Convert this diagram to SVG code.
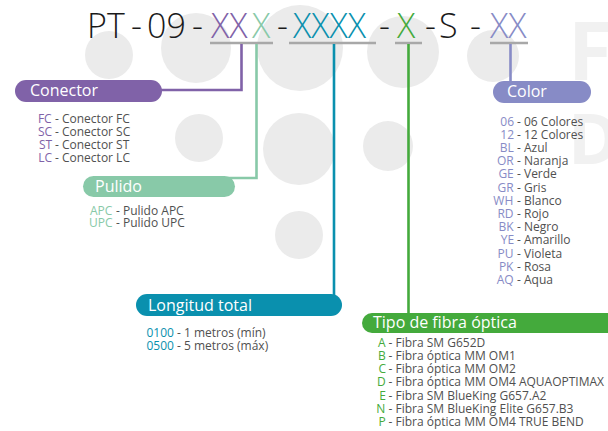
<svg xmlns="http://www.w3.org/2000/svg" width="608" height="431" viewBox="0 0 608 431">
<style>
.bg{fill:#ebebeb}
.big{font-family:"Open Sans","DejaVu Sans",sans-serif;font-weight:700;fill:#f1f1f1}
.title{font-family:"Open Sans","Liberation Sans",sans-serif;font-weight:300;font-size:34px;fill:#1a1a1a}
.pill{font-family:"Open Sans","Liberation Sans",sans-serif;font-size:16px;fill:#ffffff}
.li{font-family:"Open Sans","Liberation Sans",sans-serif;font-size:12px;fill:#505050}
.ul{stroke:#a8a8a8;stroke-width:2.5;fill:none}
.c{fill:none;stroke-width:2.6}
.pu{fill:#8062a8}.mi{fill:#88c9a8}.te{fill:#0a90ae}.gr{fill:#44aa3c}.la{fill:#878bc6}
</style>
<g id="background">
<circle class="bg" cx="109" cy="55" r="24"/>
<circle class="bg" cx="196" cy="48" r="35"/>
<circle class="bg" cx="300" cy="48" r="43"/>
<circle class="bg" cx="403" cy="52" r="36"/>
<circle class="bg" cx="493" cy="56" r="26"/>
<circle class="bg" cx="199" cy="138" r="24"/>
<circle class="bg" cx="299" cy="149" r="36"/>
<circle class="bg" cx="388" cy="146" r="25"/>
<circle class="bg" cx="299" cy="235" r="24"/>
<text class="big" x="568" y="80" font-size="80">F</text>
<text class="big" x="568" y="164" font-size="70">D</text>
</g>
<g id="title">
<text class="title" y="38"><tspan x="87">PT</tspan><tspan x="131">-</tspan><tspan x="147">09</tspan><tspan x="192">-</tspan><tspan x="211" class="pu">XX</tspan><tspan x="252" class="mi">X</tspan><tspan x="277">-</tspan><tspan x="293" class="te">XXXX</tspan><tspan x="379">-</tspan><tspan x="397" class="gr">X</tspan><tspan x="425">-</tspan><tspan x="439">S</tspan><tspan x="470">-</tspan><tspan x="490" class="la">XX</tspan></text>
<line class="ul" x1="210" y1="43" x2="273" y2="43"/>
<line class="ul" x1="289" y1="43" x2="376" y2="43"/>
<line class="ul" x1="395" y1="43" x2="422" y2="43"/>
<line class="ul" x1="490" y1="43" x2="528" y2="43"/>
</g>
<g id="connectors">
<path class="c" stroke="#8062a8" d="M241.5 44 V90 H150"/>
<path class="c" stroke="#88c9a8" d="M256.5 44 V178 H225"/>
<path class="c" stroke="#0a90ae" d="M334 44 V300"/>
<path class="c" stroke="#44aa3c" d="M408.5 44 V318"/>
<path class="c" stroke="#878bc6" d="M510.5 44 V88"/>
</g>
<g id="conector">
<rect class="pu" x="15" y="80" width="147" height="22" rx="11"/>
<text class="pill" x="30" y="96">Conector</text>
<text class="li pu" x="37.9" y="123">FC</text><text class="li" x="55" y="123">- Conector FC</text>
<text class="li pu" x="37.9" y="136">SC</text><text class="li" x="55" y="136">- Conector SC</text>
<text class="li pu" x="39" y="149">ST</text><text class="li" x="55" y="149">- Conector ST</text>
<text class="li pu" x="38.2" y="161.5">LC</text><text class="li" x="55" y="161.5">- Conector LC</text>
</g>
<g id="pulido">
<rect class="mi" x="83" y="176" width="152" height="21" rx="10.5"/>
<text class="pill" x="95" y="192">Pulido</text>
<text class="li mi" x="89.9" y="215">APC</text><text class="li" x="116" y="215">- Pulido APC</text>
<text class="li mi" x="89" y="227">UPC</text><text class="li" x="116" y="227">- Pulido UPC</text>
</g>
<g id="color">
<rect class="la" x="493" y="81" width="98" height="22" rx="11"/>
<text class="pill" x="507" y="97">Color</text>
<text class="li la" x="500.3" y="125.5">06</text><text class="li" x="517" y="125.5">- 06 Colores</text>
<text class="li la" x="500.3" y="138.7">12</text><text class="li" x="517" y="138.7">- 12 Colores</text>
<text class="li la" x="499.7" y="151.9">BL</text><text class="li" x="517" y="151.9">- Azul</text>
<text class="li la" x="497" y="165.1">OR</text><text class="li" x="517" y="165.1">- Naranja</text>
<text class="li la" x="498.4" y="178.3">GE</text><text class="li" x="517" y="178.3">- Verde</text>
<text class="li la" x="497.5" y="191.5">GR</text><text class="li" x="517" y="191.5">- Gris</text>
<text class="li la" x="493.3" y="204.7">WH</text><text class="li" x="517" y="204.7">- Blanco</text>
<text class="li la" x="497.4" y="217.9">RD</text><text class="li" x="517" y="217.9">- Rojo</text>
<text class="li la" x="498.4" y="231.1">BK</text><text class="li" x="517" y="231.1">- Negro</text>
<text class="li la" x="500.7" y="244.3">YE</text><text class="li" x="517" y="244.3">- Amarillo</text>
<text class="li la" x="497.6" y="257.5">PU</text><text class="li" x="517" y="257.5">- Violeta</text>
<text class="li la" x="498.9" y="270.7">PK</text><text class="li" x="517" y="270.7">- Rosa</text>
<text class="li la" x="496.7" y="283.9">AQ</text><text class="li" x="517" y="283.9">- Aqua</text>
</g>
<g id="longitud">
<rect class="te" x="136" y="294" width="206" height="22" rx="11"/>
<text class="pill" x="148" y="311">Longitud total</text>
<text class="li te" x="146.5" y="337">0100</text><text class="li" x="177" y="337">- 1 metros (mín)</text>
<text class="li te" x="146.5" y="350">0500</text><text class="li" x="177" y="350">- 5 metros (máx)</text>
</g>
<g id="tipo">
<rect class="gr" x="362" y="313" width="270" height="20" rx="10"/>
<text class="pill" x="373" y="328">Tipo de fibra óptica</text>
<text class="li gr" x="378.1" y="346.7">A</text><text class="li" x="388.5" y="346.7">- Fibra SM G652D</text>
<text class="li gr" x="378" y="359.9">B</text><text class="li" x="388.5" y="359.9">- Fibra óptica MM OM1</text>
<text class="li gr" x="378.4" y="373.1">C</text><text class="li" x="388.5" y="373.1">- Fibra óptica MM OM2</text>
<text class="li gr" x="377.1" y="386.3">D</text><text class="li" x="388.5" y="386.3">- Fibra óptica MM OM4 AQUAOPTIMAX</text>
<text class="li gr" x="379.3" y="399.5">E</text><text class="li" x="388.5" y="399.5">- Fibra SM BlueKing G657.A2</text>
<text class="li gr" x="376.2" y="412.7">N</text><text class="li" x="388.5" y="412.7">- Fibra SM BlueKing Elite G657.B3</text>
<text class="li gr" x="378.4" y="425.9">P</text><text class="li" x="388.5" y="425.9">- Fibra óptica MM OM4 TRUE BEND</text>
</g>
</svg>
